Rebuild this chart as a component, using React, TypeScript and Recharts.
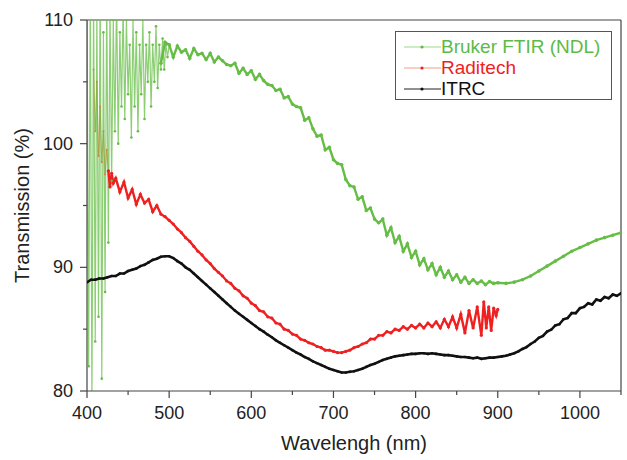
import { LineChart, Line, XAxis, YAxis, Legend, ReferenceLine } from "recharts";

// wavelength (nm), transmission (%)
// Bruker: noisy short-wavelength part, then the dense part
const brukerNoisyPoints: [number, number][] = [
  [400, 112], [402, 82], [404, 113], [406, 79], [408, 112], [410, 84], [412, 111], [414, 86],
  [416, 113], [418, 81], [420, 109], [422, 88], [424, 112], [426, 92], [428, 111], [430, 97],
  [432, 110], [434, 101], [436, 112], [438, 100], [440, 109], [442, 103], [444, 111], [446, 102],
  [448, 110], [450, 104], [452, 108], [454, 100.5], [456, 110], [458, 103], [460, 109], [462, 101],
  [464, 108], [466, 104], [468, 110], [470, 102], [472, 108], [474, 105], [476, 109], [478, 103],
  [480, 108], [482, 105], [484, 109.5], [486, 104.5], [488, 108], [490, 106], [492, 108.5],
  [494, 106], [496, 108], [498, 107], [500, 108],
];

const brukerPoints: [number, number][] = [
  [490, 106.5], [495, 108.2], [500, 108],
  [505, 107.0], [510, 107.9], [515, 107.4], [520, 107.6], [525, 106.9], [530, 107.7], [535, 107.2],
  [540, 107.3], [545, 106.8], [550, 107.3], [555, 106.6], [560, 107.0], [565, 106.7], [570, 106.4],
  [575, 106.3], [580, 106.5], [585, 105.7], [590, 106.1], [595, 105.6], [600, 105.9], [605, 105.2],
  [610, 105.6], [615, 105.1], [620, 104.8], [625, 104.7], [630, 104.3], [635, 104.4], [640, 103.7],
  [645, 103.8], [650, 103.2], [655, 103.0], [660, 102.9], [665, 101.9], [670, 102.1], [675, 101.2],
  [680, 100.6], [685, 100.7], [690, 99.5], [695, 99.7], [700, 98.7], [705, 98.4], [710, 98.3],
  [715, 97.1], [720, 96.6], [725, 96.5], [730, 95.5], [735, 95.7], [740, 94.6], [745, 94.8],
  [750, 93.9], [755, 93.6], [760, 93.9], [765, 92.6], [770, 93.2], [775, 92.0], [780, 92.5],
  [785, 91.3], [790, 91.9], [795, 90.8], [800, 91.3], [805, 90.2], [810, 90.7], [815, 89.8],
  [820, 90.3], [825, 89.4], [830, 90.0], [835, 89.2], [840, 89.7], [845, 89.0], [850, 89.4],
  [855, 88.8], [860, 89.2], [865, 88.7], [870, 89.0], [875, 88.7], [880, 88.9], [885, 88.6],
  [890, 88.85], [895, 88.7], [900, 88.75], [910, 88.7], [920, 88.8], [930, 89.0], [940, 89.3],
  [950, 89.7], [960, 90.1], [970, 90.5], [980, 90.9], [990, 91.3], [1000, 91.6], [1010, 91.9],
  [1020, 92.2], [1030, 92.4], [1040, 92.6], [1050, 92.8],
];

const raditechEarlyPoints: [number, number][] = [
  [408, 106], [410, 101], [412, 105], [414, 99], [416, 103], [418, 98.5], [420, 101],
  [422, 97.5], [424, 99.5], [426, 97.8],
];

const raditechPoints: [number, number][] = [
  [426, 97.8], [428, 96.5], [430, 97.6], [432, 96.8], [435, 97.2], [440, 96.1], [445, 96.9],
  [450, 95.6], [455, 96.3], [460, 95.1], [465, 95.9], [470, 95.2], [475, 95.5], [480, 94.5],
  [485, 95.0], [490, 94.3], [495, 94.1], [500, 93.8], [505, 93.5], [510, 93.1], [515, 92.8],
  [520, 92.4], [525, 92.1], [530, 91.7], [535, 91.3], [540, 91.0], [545, 90.6], [550, 90.3],
  [555, 89.9], [560, 89.6], [565, 89.3], [570, 88.9], [575, 88.7], [580, 88.3], [585, 88.1],
  [590, 87.7], [595, 87.5], [600, 87.1], [605, 86.9], [610, 86.5], [615, 86.4], [620, 86.0],
  [625, 85.9], [630, 85.5], [635, 85.4], [640, 85.0], [645, 84.9], [650, 84.6], [655, 84.5],
  [660, 84.2], [665, 84.1], [670, 83.9], [675, 83.8], [680, 83.6], [685, 83.5], [690, 83.3],
  [695, 83.3], [700, 83.2], [705, 83.1], [710, 83.1], [715, 83.2], [720, 83.3], [725, 83.5],
  [730, 83.6], [735, 83.8], [740, 83.9], [745, 84.2], [750, 84.2], [755, 84.5], [760, 84.5],
  [765, 84.8], [770, 84.7], [775, 85.0], [780, 84.9], [785, 85.2], [790, 85.0], [795, 85.3],
  [800, 85.1], [805, 85.4], [810, 85.1], [815, 85.5], [820, 85.2], [825, 85.6], [830, 85.1],
  [835, 85.8], [840, 85.2], [845, 86.0], [850, 85.1], [855, 86.2], [860, 84.7], [865, 86.5],
  [870, 85.1], [875, 86.8], [880, 84.5], [883, 87.2], [886, 85.1], [889, 86.8], [892, 84.9],
  [895, 86.7], [898, 86.1], [900, 86.6],
];

const itrcPoints: [number, number][] = [
  [400, 88.8], [405, 89.0], [410, 89.0], [415, 89.1], [420, 89.1], [425, 89.2], [430, 89.3],
  [435, 89.3], [440, 89.5], [445, 89.5], [450, 89.7], [455, 89.8], [460, 89.9], [465, 90.1],
  [470, 90.2], [475, 90.4], [480, 90.6], [485, 90.7], [490, 90.85], [495, 90.9], [500, 90.9],
  [505, 90.75], [510, 90.5], [515, 90.3], [520, 90.0], [525, 89.8], [530, 89.5], [535, 89.2],
  [540, 88.9], [545, 88.6], [550, 88.3], [555, 88.0], [560, 87.7], [565, 87.4], [570, 87.1],
  [575, 86.8], [580, 86.5], [585, 86.25], [590, 86.0], [595, 85.75], [600, 85.5], [605, 85.25],
  [610, 85.0], [615, 84.8], [620, 84.55], [625, 84.35], [630, 84.1], [635, 83.9], [640, 83.7],
  [645, 83.5], [650, 83.3], [655, 83.1], [660, 82.95], [665, 82.75], [670, 82.6], [675, 82.4],
  [680, 82.25], [685, 82.1], [690, 81.95], [695, 81.8], [700, 81.7], [705, 81.6], [710, 81.5],
  [715, 81.5], [720, 81.55], [725, 81.6], [730, 81.7], [735, 81.8], [740, 81.95], [745, 82.1],
  [750, 82.2], [755, 82.35], [760, 82.5], [765, 82.6], [770, 82.7], [775, 82.8], [780, 82.85],
  [785, 82.9], [790, 82.95], [795, 83.0], [800, 83.0], [805, 83.05], [810, 83.05], [815, 83.0],
  [820, 83.05], [825, 83.0], [830, 82.95], [835, 82.9], [840, 82.9], [845, 82.85], [850, 82.8],
  [855, 82.75], [860, 82.75], [865, 82.7], [870, 82.65], [875, 82.7], [880, 82.6], [885, 82.65],
  [890, 82.7], [895, 82.7], [900, 82.75], [905, 82.8], [910, 82.85], [915, 82.95], [920, 83.05],
  [925, 83.2], [930, 83.4], [935, 83.55], [940, 83.8], [945, 84.0], [950, 84.3], [955, 84.45],
  [960, 84.8], [965, 84.95], [970, 85.3], [975, 85.4], [980, 85.8], [985, 85.9], [990, 86.3],
  [995, 86.3], [1000, 86.7], [1005, 86.8], [1010, 87.1], [1015, 87.0], [1020, 87.4],
  [1025, 87.3], [1030, 87.6], [1035, 87.5], [1040, 87.8], [1045, 87.7], [1050, 87.9],
];

const xTicks = [400, 450, 500, 550, 600, 650, 700, 750, 800, 850, 900, 950, 1000, 1050];
const yTicks = [80, 85, 90, 95, 100, 105, 110];

const legendItems = [
  { name: "Bruker FTIR (NDL)", text: "#5dba47", line: "#9bd88a" },
  { name: "Raditech", text: "#f01e1e", line: "#f6a084" },
  { name: "ITRC", text: "#111111", line: "#222222" },
];

const GREEN = "#66bd46";
const RED = "#ee2020";
const BLACK = "#111111";
const AXIS = "#444444";

const toRows = (pts: [number, number][]) => pts.map(([nm, t]) => ({ nm, t }));

const XTick = ({ x, y, payload }: any) => {
  const major = payload.value % 100 === 0;
  return (
    <g>
      <line x1={x} x2={x} y1={y} y2={y + (major ? 7 : 4)} stroke={AXIS} strokeWidth={1.2} />
      {major && (
        <text x={x} y={y + 28} textAnchor="middle" fontSize={18} fill="#222">
          {payload.value}
        </text>
      )}
    </g>
  );
};

const YTick = ({ x, y, payload }: any) => {
  const major = payload.value % 10 === 0;
  return (
    <g>
      <line x1={x} x2={x - (major ? 7 : 4)} y1={y} y2={y} stroke={AXIS} strokeWidth={1.2} />
      {major && (
        <text x={x - 14} y={y + 6} textAnchor="end" fontSize={18} fill="#222">
          {payload.value}
        </text>
      )}
    </g>
  );
};

const LegendBox = () => (
  <div
    style={{
      border: "1.5px solid #555",
      background: "#fff",
      padding: "4px 0 2px 8px",
      boxSizing: "border-box",
      width: 217,
      height: 69,
    }}
  >
    {legendItems.map((it) => (
      <div key={it.name} style={{ display: "flex", alignItems: "center", height: 21 }}>
        <svg width={37} height={10}>
          <line x1={0} x2={37} y1={5} y2={5} stroke={it.line} strokeWidth={1.2} />
          <circle cx={18} cy={5} r={1.6} fill={it.text} />
        </svg>
        <span style={{ color: it.text, fontSize: 19, lineHeight: "21px" }}>{it.name}</span>
      </div>
    ))}
  </div>
);

const App = () => {
  return (
    <div
      style={{
        position: "absolute",
        left: 0,
        top: 0,
        width: 627,
        height: 460,
        background: "#fff",
        fontFamily: "'Liberation Sans', Arial, sans-serif",
      }}
    >
      <LineChart width={627} height={460} margin={{ top: 20, right: 6, bottom: 0, left: 0 }}>
        <XAxis
          type="number"
          dataKey="nm"
          domain={[400, 1050]}
          ticks={xTicks}
          interval={0}
          allowDataOverflow
          height={69}
          tickSize={0}
          tickMargin={0}
          tickLine={false}
          tick={<XTick />}
          stroke={AXIS}
          strokeWidth={1.2}
          label={{
            value: "Wavelengh (nm)",
            position: "insideBottom",
            offset: 10,
            fontSize: 20,
            fill: "#222",
          }}
        />
        <YAxis
          type="number"
          domain={[80, 110]}
          ticks={yTicks}
          interval={0}
          allowDataOverflow
          width={87}
          tickSize={0}
          tickMargin={0}
          tickLine={false}
          tick={<YTick />}
          stroke={AXIS}
          strokeWidth={1.2}
          label={{
            value: "Transmission (%)",
            angle: -90,
            position: "insideLeft",
            offset: 22,
            fontSize: 20,
            fill: "#222",
            style: { textAnchor: "middle" },
          }}
        />
        <ReferenceLine y={110} stroke={AXIS} strokeWidth={1.2} />
        <ReferenceLine x={1050} stroke={AXIS} strokeWidth={1.2} />
        <Line
          data={toRows(raditechEarlyPoints)}
          dataKey="t"
          type="linear"
          stroke="#d9823a"
          strokeOpacity={0.8}
          strokeWidth={1}
          dot={{ r: 1, fill: "#d9823a", stroke: "none" }}
          isAnimationActive={false}
        />
        <Line
          data={toRows(brukerNoisyPoints)}
          dataKey="t"
          type="linear"
          stroke={GREEN}
          strokeOpacity={0.75}
          strokeWidth={1.2}
          dot={{ r: 1.3, fill: GREEN, stroke: "none" }}
          isAnimationActive={false}
        />
        <Line
          data={toRows(brukerPoints)}
          dataKey="t"
          type="linear"
          stroke={GREEN}
          strokeWidth={2.4}
          dot={{ r: 1.8, fill: GREEN, stroke: "none" }}
          isAnimationActive={false}
        />
        <Line
          data={toRows(raditechPoints)}
          dataKey="t"
          type="linear"
          stroke={RED}
          strokeWidth={2.4}
          dot={{ r: 1.6, fill: RED, stroke: "none" }}
          isAnimationActive={false}
        />
        <Line
          data={toRows(itrcPoints)}
          dataKey="t"
          type="linear"
          stroke={BLACK}
          strokeWidth={2.6}
          dot={{ r: 1.3, fill: BLACK, stroke: "none" }}
          isAnimationActive={false}
        />
        <Legend
          layout="vertical"
          align="center"
          verticalAlign="middle"
          content={<LegendBox />}
          wrapperStyle={{ left: 395, top: 31, width: 217, height: 69 }}
        />
      </LineChart>
    </div>
  );
};

export default App;
